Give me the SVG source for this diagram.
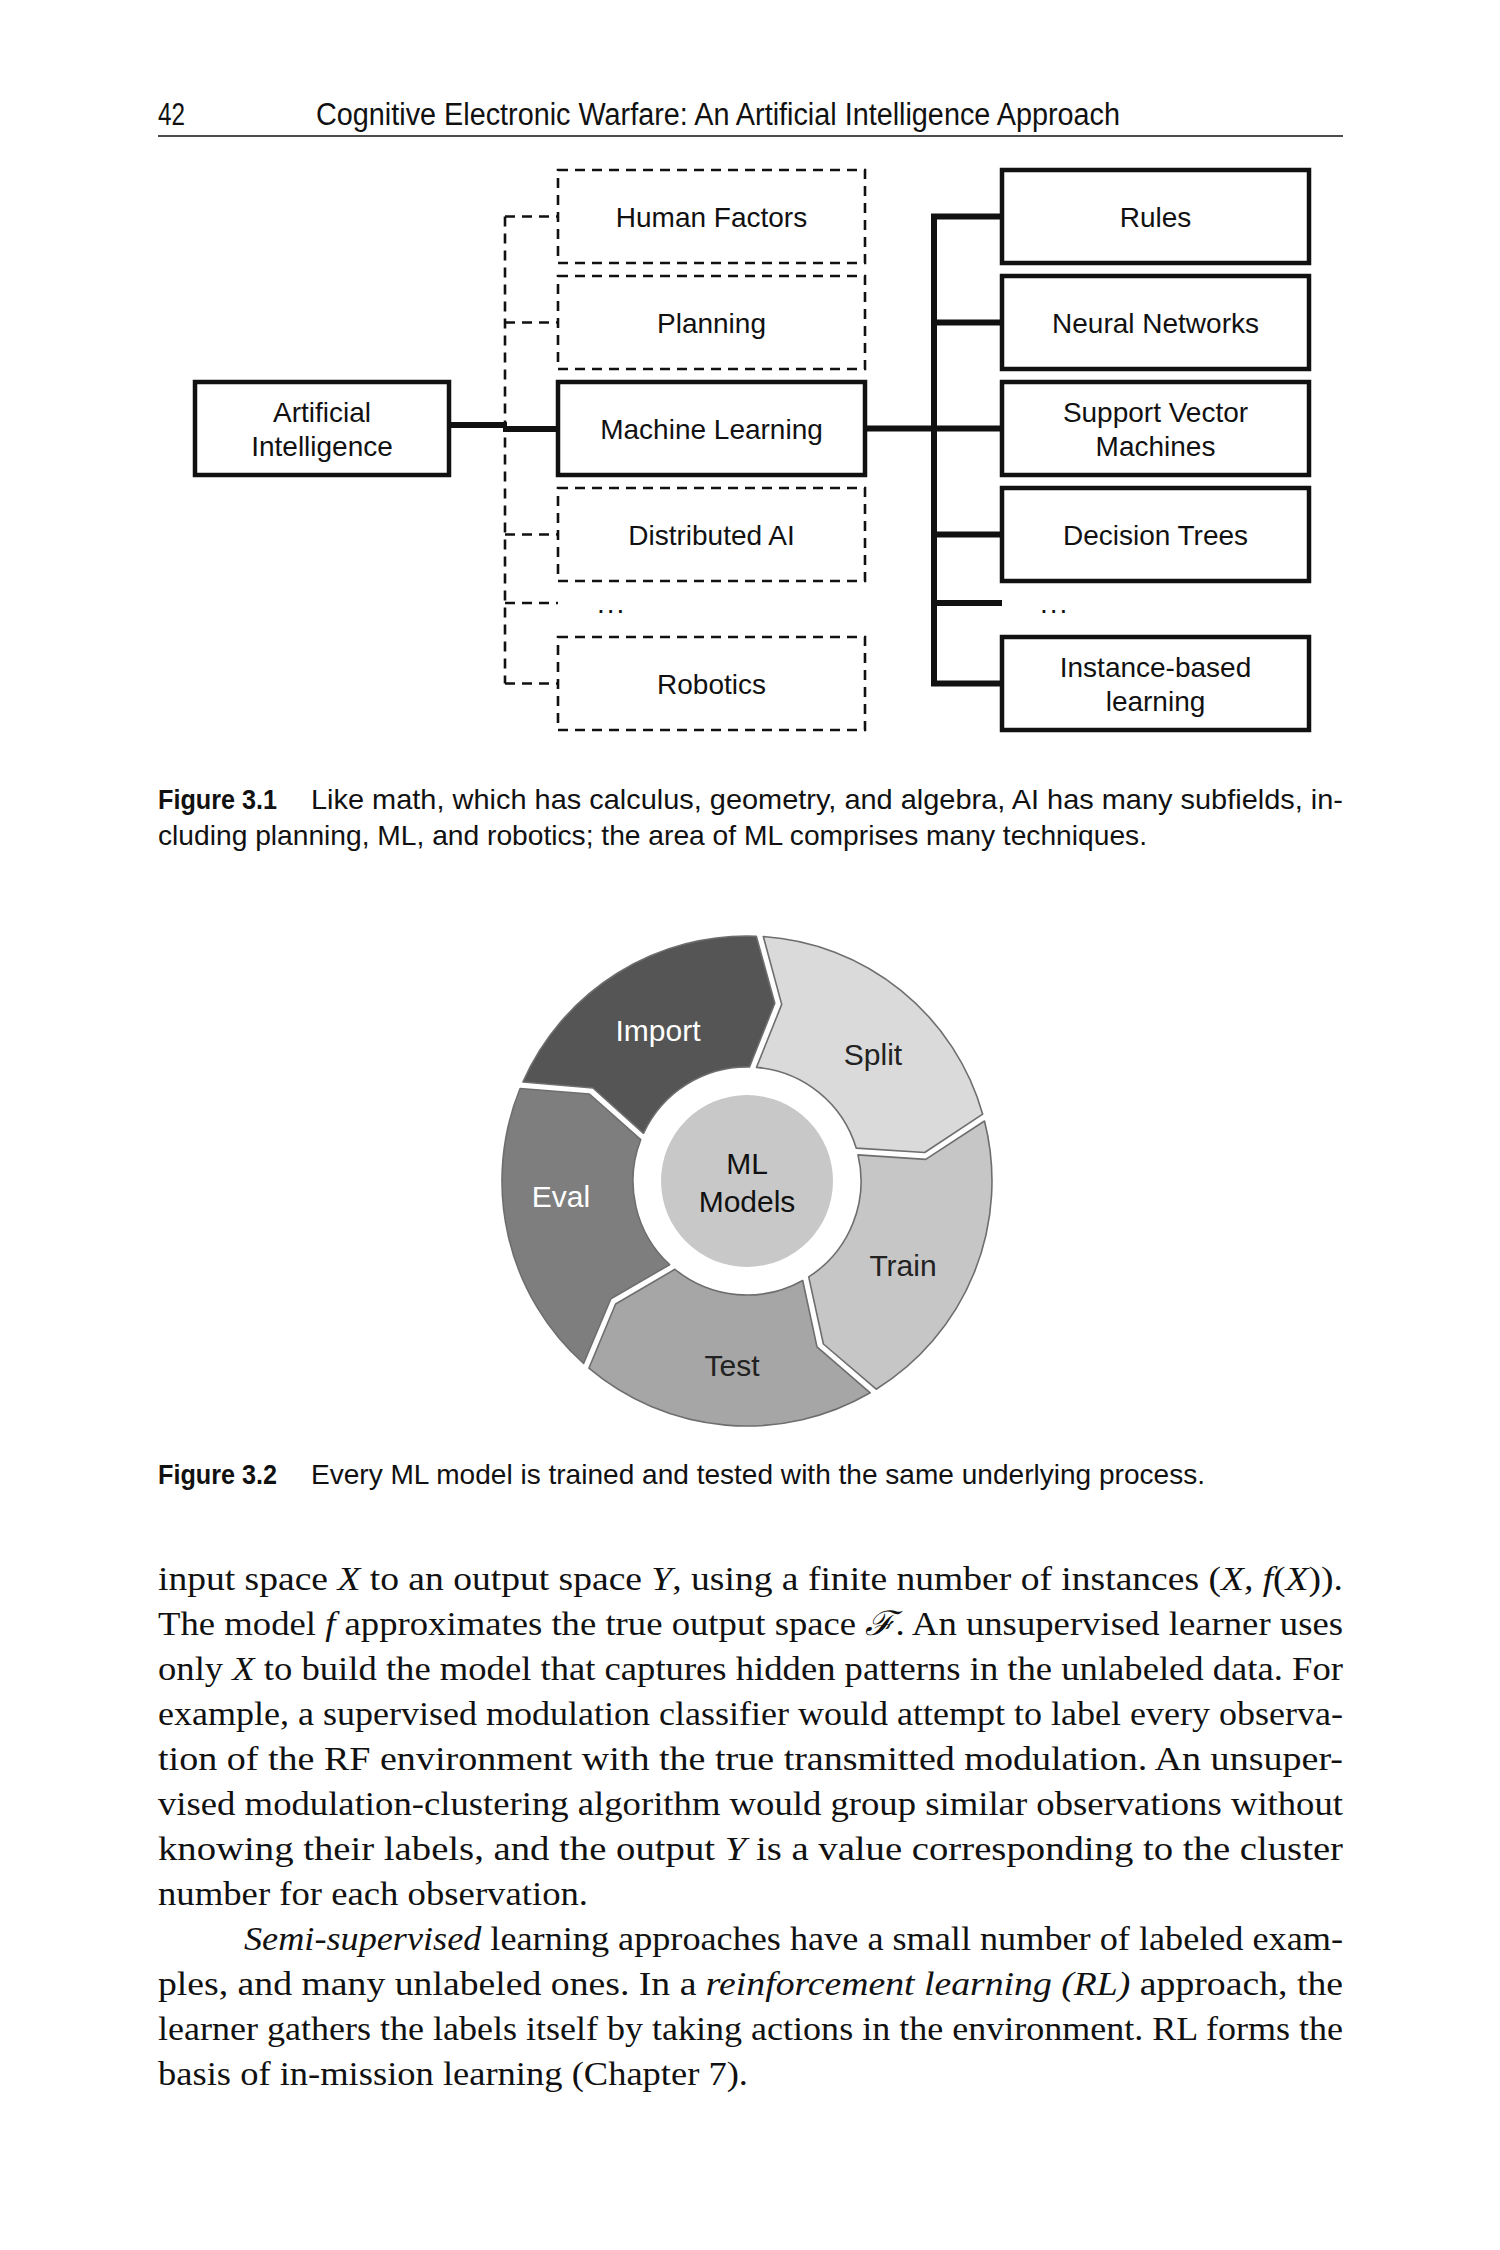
<svg xmlns="http://www.w3.org/2000/svg" width="1500" height="2250" viewBox="0 0 1500 2250">
<style>
.sans{font-family:"Liberation Sans",Arial,sans-serif;fill:#111}
.hdr{font-size:31px}
.cap{font-size:28px}
.capb{font-size:28px;font-weight:bold}
.box{font-size:28px;text-anchor:middle}
.dbox{fill:#fff;stroke:#111;stroke-width:2.6;stroke-dasharray:10 7}
.sbox{fill:#fff;stroke:#111;stroke-width:4.5}
.dline{fill:none;stroke:#111;stroke-width:2.6;stroke-dasharray:10 7}
.tline{fill:none;stroke:#111;stroke-width:6}
.seg{stroke:#6e6e6e;stroke-width:1.6;stroke-linejoin:round}
.wl{font-family:"Liberation Sans",Arial,sans-serif;font-size:30px;text-anchor:middle}
.body{font-family:"Liberation Serif","Times New Roman",serif;font-size:34px;fill:#111}
.it{font-style:italic}
</style>
<rect width="1500" height="2250" fill="#fff"/>
<g id="header">
<text class="sans hdr" x="158" y="125" textLength="27" lengthAdjust="spacingAndGlyphs">42</text>
<text class="sans hdr" x="316" y="125" textLength="804" lengthAdjust="spacingAndGlyphs">Cognitive Electronic Warfare: An Artificial Intelligence Approach</text>
<line x1="158" y1="136" x2="1343" y2="136" stroke="#111" stroke-width="1.5"/>
</g>
<g id="connectors">
<path class="dline" d="M505,216.5 V683.5 M505,216.5 H558 M505,322.5 H558 M505,534.5 H558 M505,603 H558 M505,683.5 H558"/>
<path class="tline" d="M449,425 H507 M503,429 H558"/>
<path class="tline" d="M865,428.5 H934 M934,213.5 V686.5 M934,216.5 H1002 M934,322.5 H1002 M934,428.5 H1002 M934,534.5 H1002 M934,603 H1002 M934,683.5 H1002"/>
</g>
<g id="node-ai">
<rect class="sbox" x="195" y="382" width="254" height="93"/>
<text class="sans box" x="322" y="422">Artificial</text>
<text class="sans box" x="322" y="456">Intelligence</text>
</g>
<g id="node-human-factors">
<rect class="dbox" x="558" y="170" width="307" height="93"/>
<text class="sans box" x="711.5" y="226.5">Human Factors</text>
</g>
<g id="node-planning">
<rect class="dbox" x="558" y="276" width="307" height="93"/>
<text class="sans box" x="711.5" y="332.5">Planning</text>
</g>
<g id="node-ml">
<rect class="sbox" x="558" y="382" width="307" height="93"/>
<text class="sans box" x="711.5" y="438.5">Machine Learning</text>
</g>
<g id="node-distributed-ai">
<rect class="dbox" x="558" y="488" width="307" height="93"/>
<text class="sans box" x="711.5" y="544.5">Distributed AI</text>
</g>
<g id="node-left-ellipsis">
<text class="sans" x="597" y="613" font-size="28" letter-spacing="2">...</text>
</g>
<g id="node-robotics">
<rect class="dbox" x="558" y="637" width="307" height="93"/>
<text class="sans box" x="711.5" y="693.5">Robotics</text>
</g>
<g id="node-rules">
<rect class="sbox" x="1002" y="170" width="307" height="93"/>
<text class="sans box" x="1155.5" y="226.5">Rules</text>
</g>
<g id="node-neural-networks">
<rect class="sbox" x="1002" y="276" width="307" height="93"/>
<text class="sans box" x="1155.5" y="332.5">Neural Networks</text>
</g>
<g id="node-svm">
<rect class="sbox" x="1002" y="382" width="307" height="93"/>
<text class="sans box" x="1155.5" y="422">Support Vector</text>
<text class="sans box" x="1155.5" y="456">Machines</text>
</g>
<g id="node-decision-trees">
<rect class="sbox" x="1002" y="488" width="307" height="93"/>
<text class="sans box" x="1155.5" y="544.5">Decision Trees</text>
</g>
<g id="node-right-ellipsis">
<text class="sans" x="1040" y="613" font-size="28" letter-spacing="2">...</text>
</g>
<g id="node-instance-based">
<rect class="sbox" x="1002" y="637" width="307" height="93"/>
<text class="sans box" x="1155.5" y="677">Instance-based</text>
<text class="sans box" x="1155.5" y="711">learning</text>
</g>
<g id="caption-3-1">
<text class="sans capb" x="158" y="809" textLength="119" lengthAdjust="spacingAndGlyphs">Figure 3.1</text>
<text class="sans cap" x="311" y="809" textLength="1032" lengthAdjust="spacingAndGlyphs">Like math, which has calculus, geometry, and algebra, AI has many subfields, in-</text>
<text class="sans cap" x="158" y="845" textLength="989" lengthAdjust="spacingAndGlyphs">cluding planning, ML, and robotics; the area of ML comprises many techniques.</text>
</g>
<g id="wheel" transform="translate(1,1)">
<g id="seg-import">
<path class="seg" fill="#555555" d="M521.9,1081.0 A245,245 0 0 1 755.3,935.2 L773.8,1002.2 L748.5,1066.0 A114,114 0 0 0 642.5,1132.3 L591.9,1087.0 Z"/>
<text class="wl" x="657" y="1040" fill="#fff">Import</text>
</g>
<g id="seg-split">
<path class="seg" fill="#dadada" d="M762.3,935.5 A245,245 0 0 1 981.7,1113.2 L923.7,1151.5 L855.2,1147.1 A114,114 0 0 0 755.5,1066.4 L780.7,1003.4 Z"/>
<text class="wl" x="872" y="1064" fill="#222">Split</text>
</g>
<g id="seg-train">
<path class="seg" fill="#c6c6c6" d="M983.5,1120.0 A245,245 0 0 1 875.2,1388.2 L822.4,1343.0 L807.7,1275.9 A114,114 0 0 0 857.0,1153.9 L924.7,1158.4 Z"/>
<text class="wl" x="902" y="1275" fill="#222">Train</text>
</g>
<g id="seg-test">
<path class="seg" fill="#a6a6a6" d="M869.2,1391.8 A245,245 0 0 1 587.9,1367.2 L614.6,1303.0 L673.9,1268.3 A114,114 0 0 0 801.7,1279.5 L816.0,1345.8 Z"/>
<text class="wl" x="731" y="1375" fill="#222">Test</text>
</g>
<g id="seg-eval">
<path class="seg" fill="#7e7e7e" d="M582.6,1362.5 A245,245 0 0 1 519.1,1087.5 L588.4,1093.0 L639.7,1138.7 A114,114 0 0 0 668.6,1263.7 L609.9,1297.8 Z"/>
<text class="wl" x="560" y="1206" fill="#fff">Eval</text>
</g>
<g id="ml-models">
<circle cx="746" cy="1180" r="86" fill="#c8c8c8"/>
<text class="wl" x="746" y="1173" fill="#111">ML</text>
<text class="wl" x="746" y="1211" fill="#111">Models</text>
</g>
</g>
<g id="caption-3-2">
<text class="sans capb" x="158" y="1484" textLength="119" lengthAdjust="spacingAndGlyphs">Figure 3.2</text>
<text class="sans cap" x="311" y="1484" textLength="894" lengthAdjust="spacingAndGlyphs">Every ML model is trained and tested with the same underlying process.</text>
</g>
<g id="body-text">
<text class="body" x="158" y="1590" textLength="1185" lengthAdjust="spacingAndGlyphs">input space <tspan class="it">X</tspan> to an output space <tspan class="it">Y</tspan>, using a finite number of instances (<tspan class="it">X, f</tspan>(<tspan class="it">X</tspan>)).</text>
<text class="body" x="158" y="1635" textLength="1185" lengthAdjust="spacingAndGlyphs">The model <tspan class="it">f</tspan> approximates the true output space <tspan class="it">ℱ</tspan>. An unsupervised learner uses</text>
<text class="body" x="158" y="1680" textLength="1185" lengthAdjust="spacingAndGlyphs">only <tspan class="it">X</tspan> to build the model that captures hidden patterns in the unlabeled data. For</text>
<text class="body" x="158" y="1725" textLength="1185" lengthAdjust="spacingAndGlyphs">example, a supervised modulation classifier would attempt to label every observa-</text>
<text class="body" x="158" y="1770" textLength="1185" lengthAdjust="spacingAndGlyphs">tion of the RF environment with the true transmitted modulation. An unsuper-</text>
<text class="body" x="158" y="1815" textLength="1185" lengthAdjust="spacingAndGlyphs">vised modulation-clustering algorithm would group similar observations without</text>
<text class="body" x="158" y="1860" textLength="1185" lengthAdjust="spacingAndGlyphs">knowing their labels, and the output <tspan class="it">Y</tspan> is a value corresponding to the cluster</text>
<text class="body" x="158" y="1905" textLength="430" lengthAdjust="spacingAndGlyphs">number for each observation.</text>
<text class="body" x="244" y="1950" textLength="1099" lengthAdjust="spacingAndGlyphs"><tspan class="it">Semi-supervised</tspan> learning approaches have a small number of labeled exam-</text>
<text class="body" x="158" y="1995" textLength="1185" lengthAdjust="spacingAndGlyphs">ples, and many unlabeled ones. In a <tspan class="it">reinforcement learning (RL)</tspan> approach, the</text>
<text class="body" x="158" y="2040" textLength="1185" lengthAdjust="spacingAndGlyphs">learner gathers the labels itself by taking actions in the environment. RL forms the</text>
<text class="body" x="158" y="2085" textLength="590" lengthAdjust="spacingAndGlyphs">basis of in-mission learning (Chapter 7).</text>
</g>
</svg>
